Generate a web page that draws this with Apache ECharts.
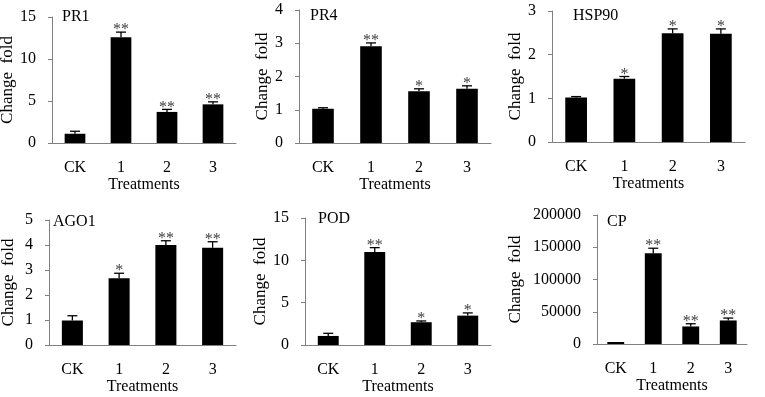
<!DOCTYPE html>
<html>
<head>
<meta charset="utf-8">
<script src="https://cdn.jsdelivr.net/npm/echarts@6/dist/echarts.min.js"></script>
<style>html,body{margin:0;padding:0;background:#fff}#c{width:765px;height:397px}</style>
</head>
<body>
<div id="c"></div>
<script>
const categories = ['CK', '1', '2', '3'];
const geneNames = ['PR1', 'PR4', 'HSP90', 'AGO1', 'POD', 'CP'];

const pr1Values = [1.1, 12.6, 3.7, 4.6];
const pr1Errors = [0.3, 0.6, 0.3, 0.3];
const pr1Sig = ['', '**', '**', '**'];

const pr4Values = [1.03, 2.91, 1.56, 1.63];
const pr4Errors = [0.03, 0.1, 0.07, 0.09];
const pr4Sig = ['', '**', '*', '*'];

const hsp90Values = [1.02, 1.45, 2.49, 2.48];
const hsp90Errors = [0.02, 0.05, 0.1, 0.11];
const hsp90Sig = ['', '*', '*', '*'];

const ago1Values = [0.98, 2.67, 4.0, 3.89];
const ago1Errors = [0.19, 0.2, 0.17, 0.24];
const ago1Sig = ['', '*', '**', '**'];

const podValues = [1.07, 10.98, 2.69, 3.47];
const podErrors = [0.31, 0.52, 0.15, 0.32];
const podSig = ['', '**', '*', '*'];

const cpValues = [1, 140700, 27200, 36500];
const cpErrors = [0, 7800, 4200, 3700];
const cpSig = ['', '**', '**', '**'];

const yMax = [15, 4, 3, 5, 15, 200000];
const yInterval = [5, 1, 1, 1, 5, 50000];

const panels = [
  {v: pr1Values, e: pr1Errors, s: pr1Sig},
  {v: pr4Values, e: pr4Errors, s: pr4Sig},
  {v: hsp90Values, e: hsp90Errors, s: hsp90Sig},
  {v: ago1Values, e: ago1Errors, s: ago1Sig},
  {v: podValues, e: podErrors, s: podSig},
  {v: cpValues, e: cpErrors, s: cpSig}
];

const FONT = '"Liberation Serif", "DejaVu Serif", serif';
const grids = [
  {left: 52, top: 17, width: 184, height: 126},
  {left: 299, top: 10, width: 192, height: 133},
  {left: 552, top: 11, width: 193, height: 131},
  {left: 49, top: 220, width: 187, height: 125},
  {left: 305, top: 218, width: 186, height: 127},
  {left: 597, top: 215, width: 150, height: 129}
];
const nameGaps = [34, 28, 28, 32, 34, 73];
const titlePos = [
  {left: 62, top: 9}, {left: 310, top: 8}, {left: 573, top: 8},
  {left: 53, top: 214}, {left: 318, top: 211}, {left: 607, top: 214}
];

const axisColor = '#808080';
const option = {
  animation: false,
  backgroundColor: '#fff',
  title: geneNames.map((g, i) => ({
    text: g, left: titlePos[i].left, top: titlePos[i].top, padding: 0,
    textStyle: {fontFamily: FONT, fontSize: 16, fontWeight: 'normal', color: '#000'}
  })),
  grid: grids.map(g => Object.assign({outerBoundsMode: 'none', containLabel: false}, g)),
  xAxis: grids.map((g, i) => ({
    type: 'category', gridIndex: i, data: categories,
    name: 'Treatments', nameLocation: 'middle', nameGap: 33,
    nameTextStyle: {fontFamily: FONT, fontSize: 16, color: '#000'},
    axisLine: {lineStyle: {color: axisColor, width: 1}},
    axisTick: {inside: true, length: 5, lineStyle: {color: axisColor}},
    axisLabel: {fontFamily: FONT, fontSize: 16, color: '#000', margin: 17},
    splitLine: {show: false}
  })),
  yAxis: grids.map((g, i) => ({
    type: 'value', gridIndex: i, min: 0, max: yMax[i], interval: yInterval[i],
    name: 'Change  fold', nameLocation: 'middle', nameGap: nameGaps[i],
    nameTextStyle: {fontFamily: FONT, fontSize: 17, color: '#000'},
    axisLine: {show: true, lineStyle: {color: axisColor, width: 1}},
    axisTick: {show: true, inside: false, length: 4, lineStyle: {color: axisColor}},
    axisLabel: {fontFamily: FONT, fontSize: 16, color: '#000', margin: 16,
      formatter: function (val) { return String(val); }},
    splitLine: {show: false}
  })),
  series: []
};

panels.forEach((p, i) => {
  option.series.push({
    type: 'bar', xAxisIndex: i, yAxisIndex: i, data: p.v,
    barWidth: '45%', barMinHeight: 2,
    itemStyle: {color: '#000'}
  });
  option.series.push({
    type: 'custom', xAxisIndex: i, yAxisIndex: i, z: 5,
    data: p.v.map((v, k) => [k, v, p.e[k]]),
    renderItem: function (params, api) {
      const x = api.value(0), v = api.value(1), e = api.value(2);
      const base = api.coord([x, v]);
      const top = api.coord([x, v + e]);
      const children = [];
      if (e > 0) {
        children.push({type: 'line', shape: {x1: base[0], y1: base[1], x2: top[0], y2: top[1]},
          style: {stroke: '#000', lineWidth: 1.3}});
        children.push({type: 'line', shape: {x1: top[0] - 5, y1: top[1], x2: top[0] + 5, y2: top[1]},
          style: {stroke: '#000', lineWidth: 1.3}});
      }
      const sig = p.s[params.dataIndex];
      if (sig) {
        children.push({type: 'text', x: top[0], y: top[1] + 6,
          style: {text: sig, fill: '#404040', font: '16px ' + FONT, align: 'center', verticalAlign: 'bottom'}});
      }
      return {type: 'group', children: children};
    }
  });
});

const chart = echarts.init(document.getElementById('c'), null, {renderer: 'canvas'});
chart.setOption(option);
</script>
</body>
</html>
